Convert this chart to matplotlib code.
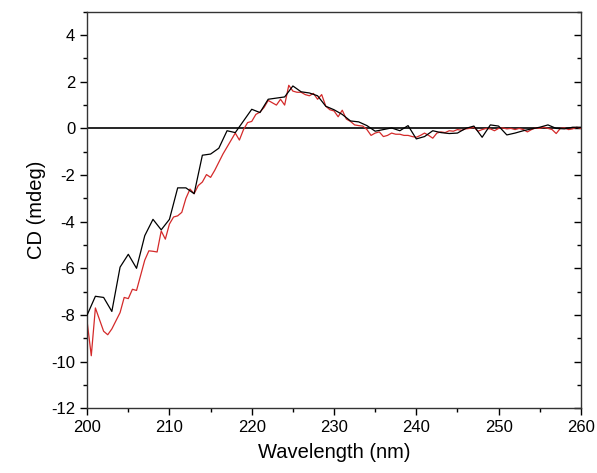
import numpy as np
import matplotlib
matplotlib.use("Agg")
import matplotlib.pyplot as plt
from matplotlib.ticker import MultipleLocator

# black trace, 1 nm steps
black_wl = np.arange(200, 261, 1)
black_cd = [-8.0, -7.2, -7.25, -7.85, -5.95, -5.4, -6.0, -4.6, -3.9, -4.35,
            -3.9, -2.55, -2.55, -2.8, -1.15, -1.1, -0.85, -0.1, -0.18, 0.32,
            0.82, 0.68, 1.25, 1.3, 1.35, 1.82, 1.57, 1.52, 1.4, 0.95,
            0.8, 0.6, 0.32, 0.28, 0.12, -0.12, -0.05, 0.02, -0.1, 0.12,
            -0.45, -0.35, -0.1, -0.18, -0.22, -0.2, 0.0, 0.1, -0.38, 0.15,
            0.1, -0.28, -0.2, -0.1, -0.02, 0.05, 0.15, 0.0, -0.02, 0.05,
            0.05]

# red trace, 0.5 nm steps
red_wl = np.arange(200, 260.5, 0.5)
red_cd = [-8.3, -9.75, -7.7, -8.2, -8.7, -8.85, -8.6, -8.25, -7.9, -7.25,
          -7.3, -6.9, -6.95, -6.3, -5.65, -5.25, -5.27, -5.3, -4.4, -4.75,
          -4.1, -3.8, -3.75, -3.6, -3.0, -2.6, -2.8, -2.45, -2.3, -1.98,
          -2.1, -1.8, -1.45, -1.1, -0.8, -0.5, -0.2, -0.5, -0.05, 0.25,
          0.3, 0.6, 0.7, 0.9, 1.2, 1.1, 1.0, 1.25, 1.0, 1.85,
          1.6, 1.55, 1.55, 1.45, 1.4, 1.5, 1.25, 1.45, 0.95, 0.8,
          0.75, 0.5, 0.78, 0.4, 0.3, 0.15, 0.12, 0.1, -0.05,
          -0.3, -0.2, -0.15, -0.35, -0.3, -0.2, -0.25, -0.25, -0.3, -0.3,
          -0.35, -0.38, -0.3, -0.2, -0.3, -0.42, -0.2, -0.15, -0.18, -0.1,
          -0.12, -0.05, -0.08, -0.02, 0.0, 0.05, -0.12, -0.05, 0.0, -0.02,
          -0.1, 0.0, 0.02, -0.02, 0.0, -0.05, 0.0, -0.05, -0.15, -0.05,
          0.02, 0.0, 0.05, 0.0, -0.05, -0.22, 0.0, 0.02, -0.05, -0.02,
          0.05, 0.0]

plt.rcParams["font.family"] = ["Liberation Sans", "DejaVu Sans"]
plt.rcParams["axes.unicode_minus"] = False

fig = plt.figure(figsize=(5.97, 4.73), dpi=100)
ax = fig.add_axes([0.146, 0.137, 0.827, 0.838])

ax.axhline(0, color="black", lw=1.2, zorder=1)
ax.plot(red_wl, red_cd, color="#d42a2a", lw=0.9, zorder=2)
ax.plot(black_wl, black_cd, color="black", lw=0.9, zorder=3)

ax.set_xlim(200, 260)
ax.set_ylim(-12, 5)
ax.xaxis.set_major_locator(MultipleLocator(10))
ax.xaxis.set_minor_locator(MultipleLocator(5))
ax.yaxis.set_major_locator(MultipleLocator(2))
ax.yaxis.set_minor_locator(MultipleLocator(1))
ax.set_yticks(np.arange(-12, 5, 2))

ax.tick_params(which="both", direction="out", labelsize=12, width=1,
               right=True, top=False)
ax.tick_params(which="major", length=5)
ax.tick_params(which="minor", length=3)
for t in ax.yaxis.get_ticklines(minor=False)[1::2] + ax.yaxis.get_ticklines(minor=True)[1::2]:
    t.set_marker(0)  # inward ticks on the right spine

for s in ax.spines.values():
    s.set_linewidth(1.0)
    s.set_color("#333333")

ax.set_xlabel("Wavelength (nm)", fontsize=14.5, labelpad=6)
ax.set_ylabel("CD (mdeg)", fontsize=14.5, labelpad=4)

fig.savefig("out.png", dpi=100)
